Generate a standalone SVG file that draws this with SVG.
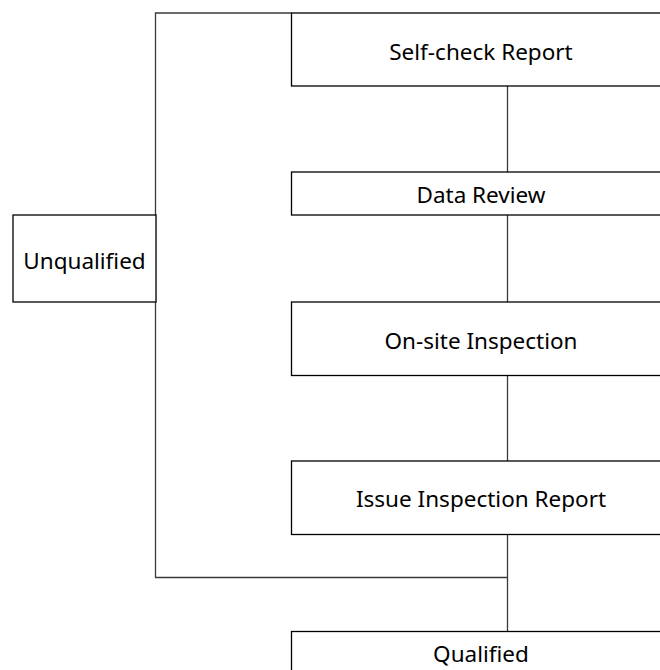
<svg xmlns="http://www.w3.org/2000/svg" width="660" height="670" viewBox="0 0 660 670">
<style>
.box{fill:#fff;stroke:#000;stroke-width:1.3}
.ln{fill:none;stroke:#3a3a3a;stroke-width:1.3}
.t{font-family:"Noto Sans","Open Sans",sans-serif;font-size:22.5px;fill:#000;text-anchor:middle}
</style>
<rect width="660" height="670" fill="#fff"/>
<g id="connectors">
<line class="ln" x1="507.5" y1="86" x2="507.5" y2="172"/>
<line class="ln" x1="507.5" y1="215" x2="507.5" y2="302"/>
<line class="ln" x1="507.5" y1="375.5" x2="507.5" y2="461"/>
<line class="ln" x1="507.5" y1="534.5" x2="507.5" y2="631.5"/>
<polyline class="ln" points="507.5,577.5 155.5,577.5 155.5,13 291.5,13"/>
</g>
<g id="self-check">
<rect class="box" x="291.5" y="13" width="390" height="73"/>
<text class="t" x="481" y="60">Self-check Report</text>
</g>
<g id="data-review">
<rect class="box" x="291.5" y="172" width="390" height="43"/>
<text class="t" x="481" y="203">Data Review</text>
</g>
<g id="unqualified">
<rect class="box" x="13" y="215" width="143" height="87"/>
<text class="t" x="84.5" y="268.5">Unqualified</text>
</g>
<g id="on-site">
<rect class="box" x="291.5" y="302" width="390" height="73.5"/>
<text class="t" x="481" y="348.5">On-site Inspection</text>
</g>
<g id="issue-report">
<rect class="box" x="291.5" y="461" width="390" height="73.5"/>
<text class="t" x="481" y="506.5">Issue Inspection Report</text>
</g>
<g id="qualified">
<rect class="box" x="291.5" y="631.5" width="390" height="73"/>
<text class="t" x="481" y="662">Qualified</text>
</g>
</svg>
